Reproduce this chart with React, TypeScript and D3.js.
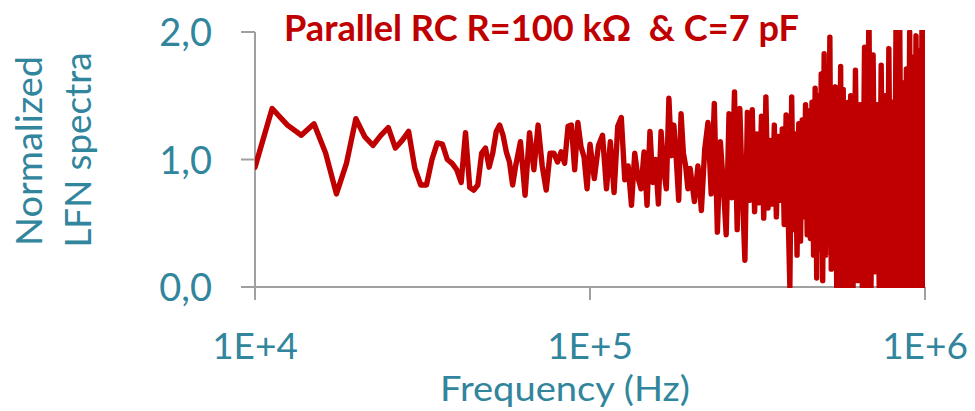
import React from "react";
import * as d3 from "d3";

// Frequency bins (kHz) read along the log axis
const freqKHz = [
  10, 11.25, 12.5, 13.75, 15, 16.25, 17.5, 18.75, 20, 21.25, 22.5, 23.75, 25, 26.25, 27.5, 28.75,
  30, 31.25, 32.5, 33.75, 35, 36.25, 37.5, 38.75, 40, 41.25, 42.5, 43.75, 45, 46.25, 47.5, 48.75,
  50, 51.25, 52.5, 53.75, 55, 56.25, 57.5, 58.75, 60,
  62, 64, 66, 68, 70, 72, 74, 76, 78, 80, 82, 84, 86, 88, 90, 92, 94, 96, 98, 100,
  103, 106, 109, 112, 115, 118, 121, 124, 127, 130, 133, 136, 139, 142, 145, 148, 151, 154, 157,
  160, 163, 166, 169, 172, 175, 178, 181, 184, 187, 190, 193, 196, 199,
  205, 210, 215, 220, 225, 230, 235, 240, 245, 250, 255, 260, 265, 270, 275, 280, 285, 290, 295,
  300, 305, 310, 315, 320, 325, 330, 335, 340, 345, 350, 355, 360, 365, 370, 375, 380, 385, 390,
  395, 400,
  405, 410, 415, 420, 425, 430, 435, 440, 445, 450, 455, 460, 465, 470, 475, 480, 485, 490, 495,
  500, 505, 510, 515, 520, 525, 530, 535, 540, 545, 550, 555, 560, 565, 570, 575, 580, 585, 590,
  595, 600,
  610, 620, 630, 640, 650, 660, 670, 680, 690, 700, 710, 720, 730, 740, 750, 760, 770, 780, 790,
  800, 810, 820, 830, 840, 850, 860, 870, 880, 890, 900, 910, 920, 930, 940, 950, 960, 970, 980,
  990, 1000,
];

// Normalized LFN spectrum values
const lfn = [
  0.94, 1.4, 1.27, 1.19, 1.28, 1.05, 0.73, 0.97, 1.32, 1.18, 1.11, 1.19, 1.25, 1.09, 1.15, 1.22,
  0.93, 0.8, 0.8, 1.0, 1.13, 1.12, 1.0, 0.97, 0.92, 0.82, 1.21, 0.78, 0.76, 0.8, 1.05, 1.09,
  0.94, 1.05, 1.22, 1.27, 1.19, 1.06, 0.98, 0.8, 0.95,
  1.14, 0.72, 1.21, 0.92, 1.27, 0.95, 0.76, 1.05, 1.05, 0.98, 1.06, 0.97, 1.26, 1.27, 0.92, 1.29,
  1.1, 1.02, 0.77, 1.12,
  0.85, 1.11, 1.19, 0.77, 1.14, 0.74, 1.26, 1.33, 0.84, 0.95, 0.64, 1.05, 0.86, 0.77, 1.06, 0.64,
  1.22, 0.82, 1.0, 0.65, 1.22, 0.92, 0.77, 1.48, 1.03, 1.27, 1.0, 0.68, 1.36, 1.05, 0.95, 0.77,
  0.93,
  0.67, 0.95, 0.6, 1.08, 1.29, 0.73, 1.44, 0.43, 1.14, 0.8, 0.41, 1.36, 0.7, 1.53, 0.45, 1.4,
  0.75, 0.21, 1.37, 0.68, 1.39, 0.59, 1.2, 0.66, 1.34, 0.54, 1.49, 0.62, 1.15, 0.65, 1.27, 0.55,
  1.18, 0.68, 1.24, 0.49, 1.35, 0.62, 0.0, 1.49,
  0.45, 1.2, 0.25, 1.28, 0.36, 1.31, 0.55, 1.43, 0.41, 1.38, 0.38, 1.45, 0.25, 1.56, 0.07, 1.5,
  0.3, 1.67, 0.05, 1.83, 0.25, 1.6, 0.48, 1.96, 0.14, 1.45, 0.15, 1.57, 0.0, 1.5, 0.05, 1.73,
  0.0, 1.55, 0.0, 1.35, 0.02, 1.45, 0.0, 1.5,
  0.0, 1.7, 0.05, 1.43, 0.0, 1.88, 0.0, 2.2, 0.0, 1.82, 0.12, 1.43, 0.0, 1.74, 0.0, 1.5, 0.0,
  1.87, 0.0, 1.45, 0.0, 2.2, 0.0, 2.2, 0.0, 1.6, 0.0, 1.71, 0.0, 2.0, 0.0, 1.8, 0.0, 1.97, 0.0,
  1.85, 0.0, 2.2, 0.0, 2.2,
];

const yTicks = [0, 1, 2];
const yTickLabels = ["0,0", "1,0", "2,0"];
const xTicks = [1e4, 1e5, 1e6];
const xTickLabels = ["1E+4", "1E+5", "1E+6"];
const titleText = "Parallel RC R=100 k\u03A9  & C=7 pF";
const xTitleText = "Frequency (Hz)";
const yTitleLines = ["Normalized", "LFN spectra"];

const TEAL = "#31859C";
const RED = "#C00000";
const AXIS = "#A0A0A0";
const FONT = "Lato, 'Open Sans', sans-serif";

export default function App() {
  const W = 975;
  const H = 411;
  const left = 255;
  const right = 925;
  const top = 32;
  const bottom = 287;

  const x = d3.scaleLog().domain([1e4, 1e6]).range([left, right]);
  const y = d3.scaleLinear().domain([0, 2]).range([bottom, top]);

  const data: [number, number][] = freqKHz.map((f, i) => [f * 1000, lfn[i]]);
  const line = d3
    .line<[number, number]>()
    .x((d) => x(d[0]))
    .y((d) => y(d[1]));

  return (
    <svg
      width={W}
      height={H}
      viewBox={`0 0 ${W} ${H}`}
      style={{ position: "absolute", left: 0, top: 0, background: "#fff" }}
    >
      <defs>
        <clipPath id="plotClip">
          <rect x={left} y={30} width={right - left} height={bottom + 1 - 30} />
        </clipPath>
      </defs>

      {/* axes */}
      <line x1={left} y1={top} x2={left} y2={bottom + 13} stroke={AXIS} strokeWidth={2} />
      <line x1={left} y1={bottom} x2={right} y2={bottom} stroke={AXIS} strokeWidth={2} />
      {yTicks.map((t) => (
        <line key={"yt" + t} x1={left - 14} x2={left} y1={y(t)} y2={y(t)} stroke={AXIS} strokeWidth={2} />
      ))}
      {xTicks.map((t) => (
        <line key={"xt" + t} x1={x(t)} x2={x(t)} y1={bottom} y2={bottom + 13} stroke={AXIS} strokeWidth={2} />
      ))}

      {/* series */}
      <path
        d={line(data) || ""}
        fill="none"
        stroke={RED}
        strokeWidth={5.4}
        strokeLinejoin="round"
        strokeLinecap="round"
        clipPath="url(#plotClip)"
      />

      {/* tick labels */}
      {yTicks.map((t, i) => (
        <text
          key={"yl" + t}
          x={212}
          y={y(t) + 14}
          textAnchor="end"
          fontFamily={FONT}
          fontSize={38}
          fill={TEAL}
        >
          {yTickLabels[i]}
        </text>
      ))}
      {xTicks.map((t, i) => (
        <text
          key={"xl" + t}
          x={x(t)}
          y={359}
          textAnchor="middle"
          fontFamily={FONT}
          fontSize={37}
          fill={TEAL}
        >
          {xTickLabels[i]}
        </text>
      ))}

      {/* axis titles */}
      <text
        x={565}
        y={401}
        textAnchor="middle"
        fontFamily={FONT}
        fontSize={34}
        fill={TEAL}
        textLength={250}
        lengthAdjust="spacingAndGlyphs"
      >
        {xTitleText}
      </text>
      <text
        transform={`translate(42,151) rotate(-90)`}
        textAnchor="middle"
        fontFamily={FONT}
        fontSize={37}
        fill={TEAL}
        textLength={190}
        lengthAdjust="spacingAndGlyphs"
      >
        {yTitleLines[0]}
      </text>
      <text
        transform={`translate(91,150) rotate(-90)`}
        textAnchor="middle"
        fontFamily={FONT}
        fontSize={37}
        fill={TEAL}
        textLength={195}
        lengthAdjust="spacingAndGlyphs"
      >
        {yTitleLines[1]}
      </text>

      {/* chart title */}
      <text
        x={284}
        y={41}
        fontFamily={FONT}
        fontWeight="bold"
        fontSize={36}
        fill={RED}
        textLength={515}
        lengthAdjust="spacingAndGlyphs"
        style={{ whiteSpace: "pre" }}
      >
        {titleText}
      </text>
    </svg>
  );
}
